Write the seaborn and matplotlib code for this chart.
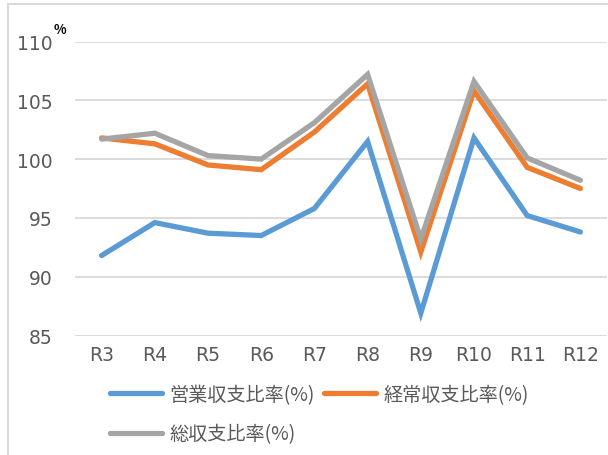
import matplotlib
matplotlib.use("Agg")
import matplotlib.pyplot as plt
import seaborn as sns
import pandas as pd
from matplotlib.patches import Rectangle
from matplotlib.lines import Line2D

categories = ["R3", "R4", "R5", "R6", "R7", "R8", "R9", "R10", "R11", "R12"]
operating = [91.8, 94.6, 93.7, 93.5, 95.8, 101.5, 86.9, 101.8, 95.2, 93.8]
ordinary = [101.8, 101.3, 99.5, 99.1, 102.3, 106.4, 92.1, 105.8, 99.3, 97.5]
total = [101.7, 102.2, 100.3, 100.0, 103.1, 107.2, 93.2, 106.6, 100.1, 98.2]
series_names = ["営業収支比率(%)", "経常収支比率(%)", "総収支比率(%)"]
colors = ["#5B9BD5", "#ED7D31", "#A5A5A5"]

sns.set_theme(style="white")
plt.rcParams['font.family'] = ['Noto Sans CJK JP', 'DejaVu Sans']

rows = []
for name, vals in zip(series_names, [operating, ordinary, total]):
    for c, v in zip(categories, vals):
        rows.append({"cat": c, "val": v, "series": name})
df = pd.DataFrame(rows)

fig = plt.figure(figsize=(6.08, 4.56), dpi=100)
ax = fig.add_axes([75/608, 1-336.5/456, (607-75)/608, (336.5-42.5)/456])

sns.lineplot(data=df, x="cat", y="val", hue="series", palette=colors,
             linewidth=3.8, ax=ax, legend=False, sort=False)
for l in ax.lines:
    l.set_solid_capstyle('round')
    l.set_solid_joinstyle('miter')

ax.set_xlim(-0.5, len(categories) - 0.5)
ax.set_ylim(85, 110)
ax.set_yticks([85, 90, 95, 100, 105, 110])
ax.yaxis.grid(True, color="#D9D9D9", linewidth=1.3)
ax.xaxis.grid(False)
for s in ax.spines.values():
    s.set_visible(False)
ax.set_xlabel("")
ax.set_ylabel("")
ax.tick_params(axis='y', length=0, pad=16, labelsize=13.5, labelcolor="#595959")
ax.tick_params(axis='x', length=0, pad=7, labelsize=13.5, labelcolor="#595959")
for t in ax.get_xticklabels() + ax.get_yticklabels():
    t.set_family(['DejaVu Sans'])

# frame
fig.patches.append(Rectangle((8/608, -0.05), 1.2, 1-5/456+0.05, transform=fig.transFigure,
                             fill=False, edgecolor="#D9D9D9", linewidth=1.5))

fig.text(60/608, 1-30/456, "%", fontsize=9.5, fontweight="bold", color="black",
         ha="center", va="center")

handles = [Line2D([0], [0], color=c, linewidth=3.8, solid_capstyle='round') for c in colors]
order = [0, 2, 1]
leg = fig.legend([handles[i] for i in order], [series_names[i] for i in order],
                 ncol=2, loc="upper left",
                 bbox_to_anchor=(110/608, 1-385/456), frameon=False,
                 fontsize=13.8, handlelength=2.7, handletextpad=0.4,
                 columnspacing=0.5, labelspacing=0.95, borderpad=0, borderaxespad=0)
for t in leg.get_texts():
    t.set_color("#595959")

fig.savefig("out.png", dpi=100)
